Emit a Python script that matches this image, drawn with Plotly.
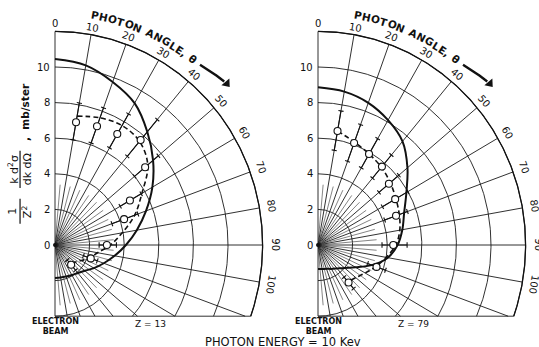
import numpy as np
import plotly.graph_objects as go

# ---------------- data ----------------
point_angles = [10, 20, 30, 40, 50, 60, 70, 90, 110, 140]          # photon angle, deg
z13_value = [7.0, 7.1, 7.2, 7.7, 6.8, 5.0, 4.25, 3.0, 2.2, 1.45]
z13_low   = [6.0, 6.1, 6.3, 6.5, 6.0, 4.35, 3.5, 2.55, 1.75, 1.1]
z13_high  = [8.1, 8.2, 8.5, 9.2, 7.8, 5.75, 5.1, 3.55, 2.6, 1.85]
z79_value = [6.5, 6.1, 5.9, 5.75, 5.35, 5.15, 4.8, 4.35, 3.6, 2.75]
z79_low   = [5.4, 5.0, 5.0, 4.9, 4.6, 4.3, 4.1, 3.7, 3.05, 2.35]
z79_high  = [7.65, 7.2, 6.9, 6.6, 6.1, 6.0, 5.5, 5.15, 4.15, 3.2]

solid_angles = [0, 10, 20, 30, 40, 50, 60, 70, 80, 90, 100, 110, 120, 130, 140, 150, 160, 170, 180]
z13_solid = [10.45, 10.25, 9.75, 9.2, 8.3, 7.4, 6.5, 5.6, 4.8, 4.1, 3.5, 3.0, 2.6, 2.25, 2.05, 1.95, 1.88, 1.85, 1.85]
z79_solid = [8.86, 8.75, 8.5, 8.1, 7.6, 6.75, 5.9, 5.3, 4.95, 4.6, 4.1, 3.3, 2.5, 2.0, 1.72, 1.55, 1.42, 1.37, 1.35]

dash_angles = [10, 20, 30, 40, 50, 60, 70, 80, 90, 100, 110, 120, 130, 140]
z13_dash = [7.35, 7.6, 7.75, 7.6, 7.0, 5.8, 4.9, 3.95, 3.2, 2.5, 2.1, 1.75, 1.5, 1.35]
z79_dash = [6.5, 6.15, 5.9, 5.7, 5.45, 5.2, 5.0, 4.8, 4.5, 4.0, 3.55, 3.15, 2.85, 2.7]

ring_radii = [2, 4, 6, 8, 10, 12]
ray_angles = list(range(0, 181, 10))
fine_ray_angles = list(range(5, 180, 10))
angle_tick_values = [0, 10, 20, 30, 40, 50, 60, 70, 80, 90, 100]
radius_tick_values = [0, 2, 4, 6, 8, 10]
R_OUT = 12.0
Y_BOTTOM = -4.0

# ---------------- geometry of the page ----------------
SX, SY = 17.3, 17.8
W, H = 539, 347
OY = 245
SPLIT = 0.53
yr = [-(H - OY) / SY, OY / SY]
xr_left = [-55 / SX, (W * SPLIT - 55) / SX]
xr_right = [-(318 - W * SPLIT) / SX, (W - 318) / SX]

# ---------------- helpers ----------------
def pol(r, th_deg):
    t = np.radians(np.asarray(th_deg, dtype=float))
    r = np.asarray(r, dtype=float)
    return r * np.sin(t), r * np.cos(t)

def grid_paths():
    xs, ys = [], []
    for R in ring_radii:
        tmax = 180.0 if R <= -Y_BOTTOM else np.degrees(np.arccos(Y_BOTTOM / R))
        th = np.linspace(0, tmax, 240)
        x, y = pol(R, th)
        xs += list(x) + [None]; ys += list(y) + [None]
    for a in ray_angles:
        c = np.cos(np.radians(a))
        rend = R_OUT if c * R_OUT >= Y_BOTTOM else Y_BOTTOM / c
        x, y = pol([0, rend], [a, a])
        xs += list(x) + [None]; ys += list(y) + [None]
    xc = np.sqrt(R_OUT**2 - Y_BOTTOM**2)
    xs += [0, xc, None]; ys += [Y_BOTTOM, Y_BOTTOM, None]
    return xs, ys

def fine_paths(rmax=3.4):
    xs, ys = [], []
    for a in fine_ray_angles:
        c = np.cos(np.radians(a))
        rend = rmax if c * rmax >= Y_BOTTOM else Y_BOTTOM / c
        x, y = pol([0.3, rend], [a, a])
        xs += list(x) + [None]; ys += list(y) + [None]
    return xs, ys

def errorbar_paths(angles, lo, hi, cap=0.15):
    xs, ys = [], []
    for a, l, h in zip(angles, lo, hi):
        x, y = pol([l, h], [a, a])
        xs += list(x) + [None]; ys += list(y) + [None]
        t = np.radians(a)
        tx, ty = np.cos(t), -np.sin(t)
        for rr in (l, h):
            px, py = pol(rr, a)
            xs += [px - cap * tx, px + cap * tx, None]
            ys += [py - cap * ty, py + cap * ty, None]
    return xs, ys

fig = go.Figure()
annotations = []

panels = [
    dict(xa="x", ya="y", xr=xr_left, val=z13_value, lo=z13_low, hi=z13_high,
         solid=z13_solid, dash=z13_dash, ztext="Z = 13"),
    dict(xa="x2", ya="y2", xr=xr_right, val=z79_value, lo=z79_low, hi=z79_high,
         solid=z79_solid, dash=z79_dash, ztext="Z = 79"),
]

title_chars = "PHOTON ANGLE, θ"
char_w = {"P": .73, "H": .84, "O": .85, "T": .68, "N": .84, " ": .40, "A": .77,
          "G": .82, "L": .64, "E": .68, ",": .38, "θ": .69}

for p in panels:
    xa, ya, xr = p["xa"], p["ya"], p["xr"]
    gx, gy = grid_paths()
    fig.add_trace(go.Scatter(x=gx, y=gy, mode="lines", xaxis=xa, yaxis=ya,
                             line=dict(color="#1a1a1a", width=0.9), hoverinfo="skip"))
    fx, fy = fine_paths()
    fig.add_trace(go.Scatter(x=fx, y=fy, mode="lines", xaxis=xa, yaxis=ya,
                             line=dict(color="#333", width=0.6), hoverinfo="skip"))
    x, y = pol(R_OUT, np.linspace(0, np.degrees(np.arccos(Y_BOTTOM / R_OUT)), 240))
    fig.add_trace(go.Scatter(x=x, y=y, mode="lines", xaxis=xa, yaxis=ya,
                             line=dict(color="#111", width=1.3), hoverinfo="skip"))
    # theory curves
    x, y = pol(p["solid"], solid_angles)
    fig.add_trace(go.Scatter(x=x, y=y, mode="lines", xaxis=xa, yaxis=ya,
                             line=dict(color="#111", width=2.0, shape="spline", smoothing=1.0),
                             hoverinfo="skip"))
    x, y = pol(p["dash"], dash_angles)
    fig.add_trace(go.Scatter(x=x, y=y, mode="lines", xaxis=xa, yaxis=ya,
                             line=dict(color="#111", width=1.6, dash="5px,3px",
                                       shape="spline", smoothing=1.0),
                             hoverinfo="skip"))
    # error bars
    ex, ey = errorbar_paths(point_angles, p["lo"], p["hi"])
    fig.add_trace(go.Scatter(x=ex, y=ey, mode="lines", xaxis=xa, yaxis=ya,
                             line=dict(color="#111", width=1.1), hoverinfo="skip"))
    # data points
    x, y = pol(p["val"], point_angles)
    fig.add_trace(go.Scatter(x=x, y=y, mode="markers", xaxis=xa, yaxis=ya,
                             marker=dict(symbol="circle", size=7, color="white",
                                         line=dict(color="#111", width=1.1)),
                             cliponaxis=False))
    fig.add_trace(go.Scatter(x=[0], y=[0], mode="markers", xaxis=xa, yaxis=ya,
                             marker=dict(size=4, color="#111"), hoverinfo="skip"))
    # arrow
    th = np.linspace(39.6, 46.8, 30)
    rr = np.linspace(13.15, 13.42, 30)
    x, y = pol(rr, th)
    fig.add_trace(go.Scatter(x=x, y=y, mode="lines", xaxis=xa, yaxis=ya,
                             line=dict(color="#111", width=2.4), hoverinfo="skip"))
    x, y = pol([13.45], [47.6])
    fig.add_trace(go.Scatter(x=x, y=y, mode="markers", xaxis=xa, yaxis=ya,
                             marker=dict(symbol="triangle-right", size=9, angle=50, color="#111"),
                             cliponaxis=False, hoverinfo="skip"))

    # radius tick labels
    for v in radius_tick_values:
        annotations.append(dict(x=-0.18, y=v, xref=xa, yref=ya, text=str(v), showarrow=False,
                                xanchor="right", yanchor="middle",
                                font=dict(family="DejaVu Sans", size=10, color="#111")))
    # angle tick labels (placed by axis-domain fraction so edge labels still draw)
    for a in angle_tick_values:
        rl = 12.42 + 0.28 * np.sin(np.radians(a)) ** 2
        x, y = pol(rl, a)
        fx_ = (float(x) - xr[0]) / (xr[1] - xr[0])
        fy_ = (float(y) - yr[0]) / (yr[1] - yr[0])
        annotations.append(dict(x=fx_, y=fy_, xref=xa + " domain", yref=ya + " domain",
                                xanchor="center", yanchor="middle",
                                text=str(a), showarrow=False, textangle=a,
                                font=dict(family="DejaVu Sans", size=10, color="#111")))
    # arc title
    w = np.array([char_w[c] for c in title_chars])
    centers = np.cumsum(w) - w / 2
    angs = 10.2 + (centers - centers[0]) / (centers[-1] - centers[0]) * (37.3 - 10.2)
    for c, a in zip(title_chars, angs):
        if c == " ":
            continue
        x, y = pol(13.12, a)
        annotations.append(dict(x=float(x), y=float(y), xref=xa, yref=ya,
                                xanchor="center", yanchor="middle",
                                text="<b>%s</b>" % c, showarrow=False, textangle=float(a),
                                font=dict(family="DejaVu Sans", size=10.5, color="#111")))
    # bottom labels
    annotations.append(dict(x=0.05, y=-4.6, xref=xa, yref=ya, yanchor="middle",
                            text="<b>ELECTRON<br>BEAM</b>", align="center",
                            showarrow=False, font=dict(family="DejaVu Sans", size=8, color="#111")))
    annotations.append(dict(x=5.5, y=-4.42, xref=xa, yref=ya, text=p["ztext"],
                            showarrow=False, font=dict(family="DejaVu Sans", size=9, color="#111")))

# y-axis title (rotated fraction)
ylab_font = dict(family="DejaVu Sans", size=11, color="#111")
annotations += [
    dict(x=-2.45, y=1.9, xref="x", yref="y", text="1", showarrow=False, textangle=-90, font=ylab_font),
    dict(x=-1.62, y=1.9, xref="x", yref="y", text="Z<sup>2</sup>", showarrow=False, textangle=-90, font=ylab_font),
    dict(x=-2.4, y=4.25, xref="x", yref="y", text="k d<sup>2</sup>σ", showarrow=False, textangle=-90, font=ylab_font),
    dict(x=-1.62, y=4.25, xref="x", yref="y", text="dk dΩ", showarrow=False, textangle=-90, font=ylab_font),
    dict(x=-1.7, y=7.45, xref="x", yref="y", text="<b>,  mb/ster</b>", showarrow=False, textangle=-90,
         font=dict(family="DejaVu Sans", size=10.5, color="#111")),
]
fig.add_trace(go.Scatter(x=[-2.02, -2.02, None, -2.02, -2.02], y=[1.2, 2.6, None, 3.2, 5.3],
                         mode="lines", xaxis="x", yaxis="y",
                         line=dict(color="#111", width=1.2), hoverinfo="skip"))

annotations.append(dict(x=0.525, y=-0.012, xref="paper", yref="paper", yanchor="bottom",
                        text="PHOTON ENERGY = 10 Kev", showarrow=False,
                        font=dict(family="DejaVu Sans", size=11.5, color="#111")))

fig.update_layout(
    width=W, height=H, margin=dict(l=0, r=0, t=0, b=0),
    paper_bgcolor="white", plot_bgcolor="white", showlegend=False,
    xaxis=dict(domain=[0, SPLIT], range=xr_left, visible=False, fixedrange=True),
    yaxis=dict(domain=[0, 1], range=yr, visible=False, fixedrange=True),
    xaxis2=dict(domain=[SPLIT, 1], range=xr_right, visible=False, anchor="y2", fixedrange=True),
    yaxis2=dict(domain=[0, 1], range=yr, visible=False, anchor="x2", fixedrange=True),
    annotations=annotations,
)
fig.write_html("out.html", config={"displayModeBar": False},
               post_script="document.body.style.margin='0px';document.body.style.padding='0px';")
